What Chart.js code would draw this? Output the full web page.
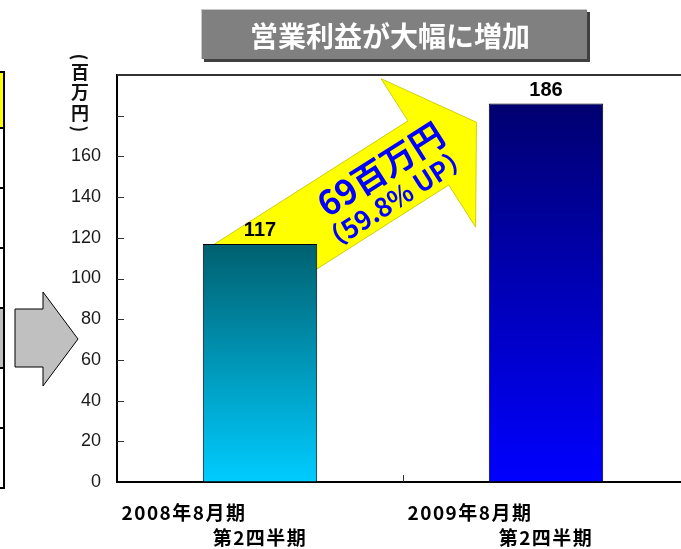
<!DOCTYPE html>
<html lang="ja">
<head>
<meta charset="utf-8">
<title>営業利益が大幅に増加</title>
<script src="https://cdn.jsdelivr.net/npm/chart.js@4.4.0/dist/chart.umd.min.js"></script>
<style>
  html, body { margin: 0; padding: 0; background: #fff; overflow: hidden; }
  #wrap { width: 700px; height: 549px; }
</style>
</head>
<body>
<div id="wrap"><canvas id="graf" width="700" height="549"></canvas></div>
<script>
const periods = ['2008年8月期', '2009年8月期'];
const quarters = ['第2四半期', '第2四半期'];
const operatingProfit = [117, 186];
const yTickLabels = [0, 20, 40, 60, 80, 100, 120, 140, 160];
const topColors = ['#00606f', '#000070'];
const bottomColors = ['#00ccff', '#0000ff'];
const titleText = '営業利益が大幅に増加';
const unitText = ['(', '百', '万', '円', ')'];
const pctText = '（59.8% UP）';

const JP = '"Noto Sans CJK JP", "Noto Sans", sans-serif';

// gradient from the top of each bar down to zero
function barFill(context) {
  const chart = context.chart;
  const i = context.dataIndex;
  if (!chart.chartArea) return bottomColors[i];
  const y = chart.scales.y;
  const g = chart.ctx.createLinearGradient(0, y.getPixelForValue(operatingProfit[i]), 0, y.getPixelForValue(0));
  g.addColorStop(0, topColors[i]);
  g.addColorStop(1, bottomColors[i]);
  return g;
}

const deco = {
  id: 'deco',
  beforeDatasetsDraw(chart) {
    // yellow arrow starting at the first bar
    const c = chart.ctx;
    const bar = chart.getDatasetMeta(0).data[0];
    c.save();
    c.translate(bar.x - bar.width / 2 + 12, bar.y);
    c.rotate(-32.5 * Math.PI / 180);
    c.beginPath();
    [[0, 0], [229, 0], [229, -50], [286, 38], [229, 126], [229, 76], [0, 76]]
      .forEach(([u, v], k) => k ? c.lineTo(u, v) : c.moveTo(u, v));
    c.closePath();
    c.fillStyle = '#ffff00';
    c.fill();
    c.strokeStyle = '#c8c800';
    c.lineWidth = 0.8;
    c.stroke();
    c.restore();
  },
  afterDraw(chart) {
    const c = chart.ctx;
    const area = chart.chartArea;
    const x = chart.scales.x;
    const y = chart.scales.y;
    const bars = chart.getDatasetMeta(0).data;

    // top frame line
    c.save();
    c.strokeStyle = '#333';
    c.lineWidth = 2;
    c.beginPath();
    c.moveTo(area.left, area.top);
    c.lineTo(chart.width, area.top);
    c.stroke();

    // inward ticks
    c.strokeStyle = '#333';
    c.lineWidth = 1;
    for (let v = 20; v <= 200; v += 20) {
      const py = Math.round(y.getPixelForValue(v)) + 0.5;
      c.beginPath();
      c.moveTo(area.left, py);
      c.lineTo(area.left + 7, py);
      c.stroke();
    }
    for (let i = 0; i < periods.length - 1; i++) {
      const px = Math.round((x.getPixelForValue(i) + x.getPixelForValue(i + 1)) / 2) + 0.5;
      c.beginPath();
      c.moveTo(px, area.bottom - 7);
      c.lineTo(px, area.bottom);
      c.stroke();
    }

    // category labels, two lines
    c.fillStyle = '#000';
    c.font = 'bold 19px ' + JP;
    c.letterSpacing = '1.5px';
    c.textAlign = 'center';
    c.textBaseline = 'middle';
    periods.forEach((p, i) => {
      const px = x.getPixelForValue(i);
      c.fillText(p, px - 76, 513);
      c.fillText(quarters[i], px, 538);
    });
    c.letterSpacing = '0px';

    // value labels
    c.font = 'bold 20px "Liberation Sans", Arial, sans-serif';
    bars.forEach((b, i) => {
      c.fillText(String(operatingProfit[i]), b.x, b.y - 13);
    });

    // arrow text
    const b0 = bars[0];
    c.save();
    c.translate(b0.x - b0.width / 2 + 12, b0.y);
    c.rotate(-32.5 * Math.PI / 180);
    c.fillStyle = '#0000ff';
    c.font = 'bold 34px ' + JP;
    c.fillText((operatingProfit[1] - operatingProfit[0]) + '百万円', 180, 26);
    c.font = 'bold 26px ' + JP;
    c.fillText(pctText, 176, 59);
    c.restore();

    // unit label, vertical
    c.fillStyle = '#111';
    c.font = 'bold 18px ' + JP;
    const unitY = [57, 72, 92, 113, 129];
    unitText.forEach((ch, i) => {
      c.save();
      c.translate(80, unitY[i]);
      if (ch === '(' || ch === ')') c.rotate(Math.PI / 2);
      c.fillText(ch, 0, 0);
      c.restore();
    });

    // heading box
    c.fillStyle = '#404040';
    c.fillRect(204, 12, 386, 50);
    c.fillStyle = '#c8c8c8';
    c.fillRect(201, 9, 386, 50);
    c.fillStyle = '#808080';
    c.fillRect(202, 10, 385, 49);
    c.fillStyle = '#fff';
    c.font = 'bold 28px ' + JP;
    c.fillText(titleText, 390, 36);

    // table edge on the left
    c.fillStyle = '#ffff00';
    c.fillRect(0, 72, 4, 56);
    c.fillStyle = '#c0c0c0';
    c.fillRect(0, 308, 4, 60);
    c.strokeStyle = '#000';
    c.lineWidth = 2;
    c.beginPath();
    c.moveTo(4, 71);
    c.lineTo(4, 489);
    [72, 128, 188, 248, 308, 368, 428, 488].forEach(ly => {
      c.moveTo(0, ly);
      c.lineTo(5, ly);
    });
    c.stroke();

    // gray arrow
    c.beginPath();
    [[15, 309], [43, 309], [43, 292], [78, 339], [43, 386], [43, 367], [15, 367]]
      .forEach(([px, py], k) => k ? c.lineTo(px, py) : c.moveTo(px, py));
    c.closePath();
    c.fillStyle = '#c0c0c0';
    c.fill();
    c.lineWidth = 1;
    c.strokeStyle = '#000';
    c.stroke();
    c.restore();
  }
};

const ctx = document.getElementById('graf').getContext('2d');

const graf = new Chart(ctx, {
  type: 'bar',
  data: {
    labels: periods,
    datasets: [{
      data: operatingProfit,
      backgroundColor: barFill,
      borderColor: '#000',
      borderWidth: 1,
      barPercentage: 0.4,
      categoryPercentage: 1
    }]
  },
  options: {
    responsive: false,
    animation: false,
    layout: { padding: { top: 75, right: 11, left: 0, bottom: 0 } },
    plugins: {
      legend: { display: false },
      tooltip: { enabled: false }
    },
    scales: {
      x: {
        grid: { display: false },
        border: { color: '#000', width: 2 },
        ticks: { display: false },
        afterFit: s => { s.height = 67; }
      },
      y: {
        min: 0,
        max: 200,
        grid: { display: true, drawOnChartArea: false, drawTicks: false },
        border: { color: '#000', width: 2 },
        ticks: {
          stepSize: 20,
          padding: 16,
          color: '#1a1a1a',
          font: { family: '"Liberation Sans Narrow", "Liberation Sans", sans-serif', size: 18 },
          callback: v => yTickLabels.includes(v) ? v : ''
        },
        afterFit: s => { s.width = 117; }
      }
    }
  },
  plugins: [deco]
});
</script>
</body>
</html>
